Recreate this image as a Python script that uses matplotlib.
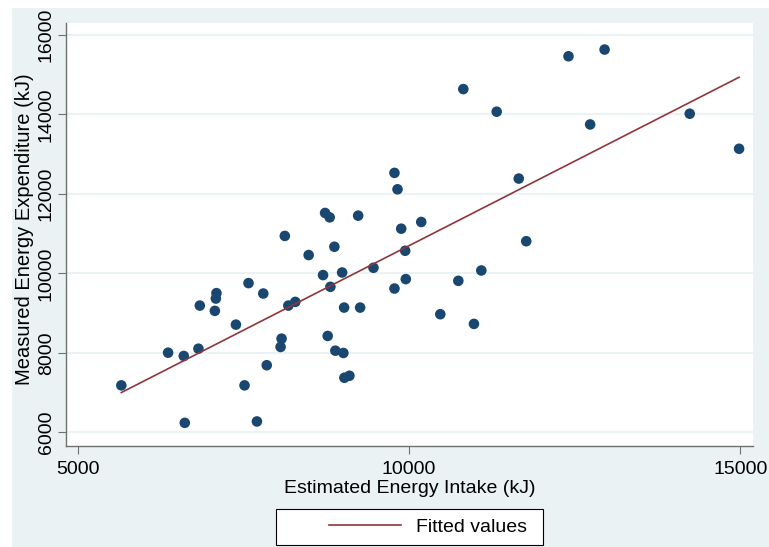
import numpy as np
import matplotlib
matplotlib.use("Agg")
import matplotlib.pyplot as plt
from matplotlib.patches import Rectangle

plt.rcParams['font.family'] = ['Liberation Sans', 'DejaVu Sans']

# values
intake = [5655, 6361, 6598, 6613, 6819, 6840, 7091, 7082, 7067, 7385,
          7515, 7575, 7702, 7798, 7850, 8059, 8074, 8123, 8176, 8281,
          8483, 8700, 8731, 8800, 8811, 8871, 8770, 8886, 8988, 9018,
          9007, 9022, 9098, 9230, 9260, 9461, 9778, 9824, 9778, 9880,
          9940, 9949, 10182, 10470, 10742, 10978, 11089, 10817, 11321, 11654,
          11767, 12405, 12732, 12950, 14235, 14980]
expenditure = [7185, 8007, 7924, 6242, 8108, 9192, 9505, 9369, 9059, 8713,
               7185, 9757, 6277, 9495, 7692, 8151, 8360, 10944, 9192, 9285,
               10463, 9959, 11522, 11411, 9664, 10672, 8428, 8058, 10024, 9142,
               8000, 7377, 7427, 11454, 9142, 10143, 12530, 12117, 9621, 11126,
               10571, 9858, 11295, 8975, 9815, 8731, 10075, 14638, 14069, 12387,
               10811, 15463, 13748, 15632, 14018, 13136]
xticks = [5000, 10000, 15000]
yticks = [6000, 8000, 10000, 12000, 14000, 16000]

navy = "#1a476f"
maroon = "#90353b"
bg = "#eaf2f3"

x = np.array(intake)
y = np.array(expenditure)
slope, icept = np.polyfit(x, y, 1)
xs = np.array([x.min(), x.max()])

W, H = 769, 547
fig = plt.figure(figsize=(W / 100, H / 100), dpi=100, facecolor="white")
fig.patches.append(Rectangle((12 / W, 0), 757 / W, 539 / H, transform=fig.transFigure,
                             facecolor=bg, edgecolor="none", zorder=-10))

ax = fig.add_axes([66 / W, 1 - 446 / H, (753 - 66) / W, (446 - 23) / H])
ax.set_facecolor("white")
ax.set_xlim(4820, 15190)
ax.set_ylim(5660, 16300)

for t in yticks:
    ax.axhline(t, color=bg, lw=1.5, zorder=0)

ax.scatter(x, y, s=58, color=navy, edgecolors="none", zorder=3)
fit_line, = ax.plot(xs, icept + slope * xs, color=maroon, lw=1.2, zorder=4,
                    label="Fitted values")

for side in ["top", "right"]:
    ax.spines[side].set_visible(False)
for side in ["left", "bottom"]:
    ax.spines[side].set_color("#707070")
    ax.spines[side].set_linewidth(1.0)

ax.set_xticks(xticks)
ax.set_yticks(yticks)
ax.tick_params(axis="both", length=6, width=0.8, color="#707070", labelsize=14,
               labelcolor="black")
ax.tick_params(axis="x", pad=5)
ax.tick_params(axis="y", pad=2)
for lab in ax.get_yticklabels():
    lab.set_rotation(90)
    lab.set_va("center")

ax.set_xlabel("Estimated Energy Intake (kJ)", fontsize=14, labelpad=1)
ax.set_ylabel("Measured Energy Expenditure (kJ)", fontsize=14.5)
ax.yaxis.set_label_coords(-0.047, 0.513)

# legend box
fig.patches.append(Rectangle((276 / W, 1 - 545 / H), 267 / W, 36 / H, transform=fig.transFigure,
                             facecolor="white", edgecolor="black", lw=0.8, zorder=5))
fig.legend(handles=[fit_line], loc="center", bbox_to_anchor=(428 / W, 1 - 527 / H),
           frameon=False, fontsize=14, handlelength=3.7, handletextpad=0.8)

fig.savefig("out.png", dpi=100, facecolor=fig.get_facecolor())
